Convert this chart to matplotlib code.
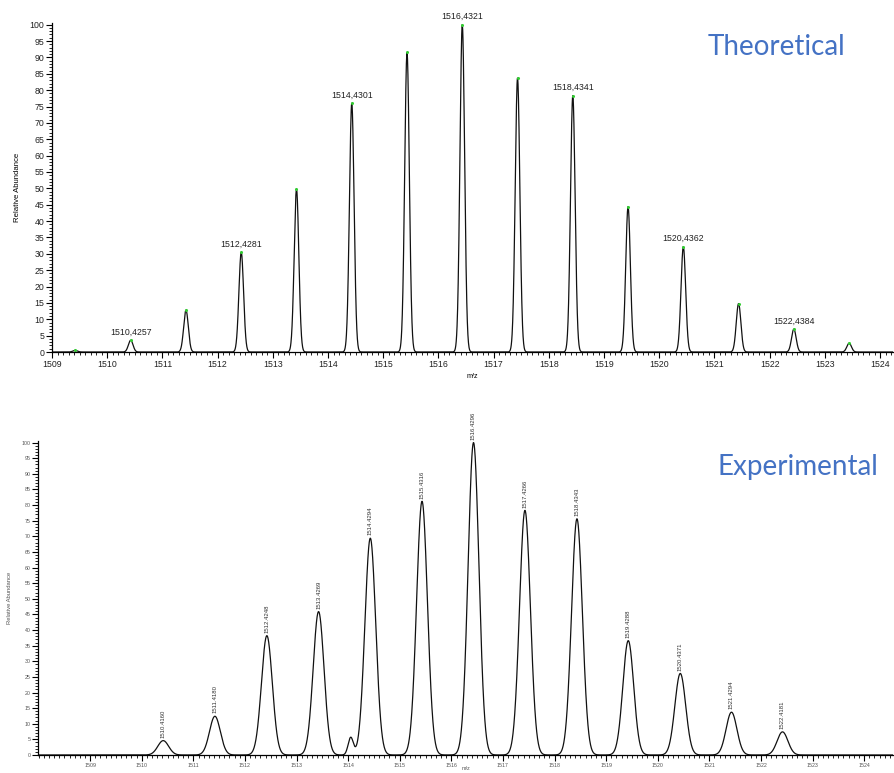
import matplotlib.pyplot as plt
import numpy as np
from matplotlib.ticker import FixedLocator, MultipleLocator

# isotope pattern, theoretical (centroid m/z and relative abundance)
theo_mz = [1509.420, 1510.4257, 1511.427, 1512.4281, 1513.429, 1514.4301, 1515.431,
           1516.4321, 1517.433, 1518.4341, 1519.435, 1520.4362, 1521.437, 1522.4384,
           1523.440]
theo_int = [0.5, 3.6, 12.8, 30.5, 49.8, 76.0, 91.5, 100.0, 83.7, 78.3, 44.4, 32.2,
            14.8, 7.0, 2.7]
theo_labels = ["", "1510,4257", "", "1512,4281", "", "1514,4301", "", "1516,4321", "",
               "1518,4341", "", "1520,4362", "", "1522,4384", ""]

# isotope pattern, experimental
exp_mz = [1510.4160, 1511.4180, 1512.4248, 1513.4269, 1514.4294, 1515.4316, 1516.4296,
          1517.4266, 1518.4343, 1519.4288, 1520.4371, 1521.4294, 1522.4181]
exp_int = [4.6, 12.4, 38.2, 45.9, 69.4, 81.2, 100.0, 78.3, 75.6, 36.6, 26.1, 13.7, 7.4]
# small unlabelled shoulder in front of the 1514 cluster
exp_extra_mz = [1514.05]
exp_extra_int = [5.6]

BLUE = "#4472C4"
FONT = ["Liberation Sans", "DejaVu Sans"]
plt.rcParams["font.family"] = FONT


def profile(x, centers, heights, sigma):
    y = np.zeros_like(x)
    for c, h in zip(centers, heights):
        y += h * np.exp(-0.5 * ((x - c) / sigma) ** 2)
    return y


def style_axis(ax, xlim, ticksize, tickcolor, minor_x):
    ax.set_xlim(*xlim)
    ax.set_ylim(0, 100.5)
    for s in ("top", "right"):
        ax.spines[s].set_visible(False)
    for s in ("left", "bottom"):
        ax.spines[s].set_linewidth(0.9)
    ax.xaxis.set_major_locator(FixedLocator(range(1509, 1525)))
    ax.xaxis.set_minor_locator(MultipleLocator(minor_x))
    ax.yaxis.set_major_locator(MultipleLocator(5))
    ax.yaxis.set_minor_locator(MultipleLocator(1))
    ax.tick_params(which="major", length=4, width=0.8, labelsize=ticksize,
                   labelcolor=tickcolor, pad=1.5)
    ax.tick_params(which="minor", length=2, width=0.6)


fig = plt.figure(figsize=(8.95, 7.73), dpi=100)

# ---------------------------------------------------------------- theoretical
ax1 = fig.add_axes([0.0581, 0.5446, 0.9397, 0.4256])
x1 = np.linspace(1509.0, 1524.3, 6000)
ax1.plot(x1, profile(x1, theo_mz, theo_int, 0.042), color="#111111", lw=0.9)
ax1.plot(theo_mz, theo_int, ls="none", marker="o", ms=1.2, color="#33cc33")
for m, h, lab in zip(theo_mz, theo_int, theo_labels):
    if lab:
        ax1.annotate(lab, (m, h), xytext=(0, 2.5), textcoords="offset points",
                     ha="center", va="bottom", fontsize=6.3, color="#222222")
style_axis(ax1, (1509.0, 1524.235), 6.3, "#222222", 0.1)
ax1.set_ylabel("Relative Abundance", fontsize=5.6, labelpad=6)
ax1.set_xlabel("m/z", fontsize=5.2, labelpad=3)
fig.text(0.868, 0.929, "Theoretical", fontsize=20, color=BLUE,
         family=["Lato", "DejaVu Sans"], ha="center", va="baseline")

# --------------------------------------------------------------- experimental
ax2 = fig.add_axes([0.0425, 0.0233, 0.9553, 0.4062])
x2 = np.linspace(1508.0, 1524.6, 6000)
y2 = profile(x2, exp_mz, exp_int, 0.105) + profile(x2, exp_extra_mz, exp_extra_int, 0.05)
ax2.plot(x2, y2, color="#111111", lw=0.9)
for m, h in zip(exp_mz, exp_int):
    ax2.annotate(f"{m:.4f}", (m, h), xytext=(0, 2), textcoords="offset points",
                 ha="center", va="bottom", rotation=90, fontsize=4.3, color="#333333")
style_axis(ax2, (1507.99, 1524.56), 3.8, "#555555", 0.1)
ax2.set_ylabel("Relative Abundance", fontsize=4.2, color="#555555", labelpad=7)
ax2.set_xlabel("m/z", fontsize=4.0, color="#555555")
ax2.xaxis.set_label_coords(0.5, -0.043)
ax2.xaxis.label.set_va("center")
fig.text(0.891, 0.386, "Experimental", fontsize=20, color=BLUE,
         family=["Lato", "DejaVu Sans"], ha="center", va="baseline")

fig.savefig("out.png", dpi=100)
